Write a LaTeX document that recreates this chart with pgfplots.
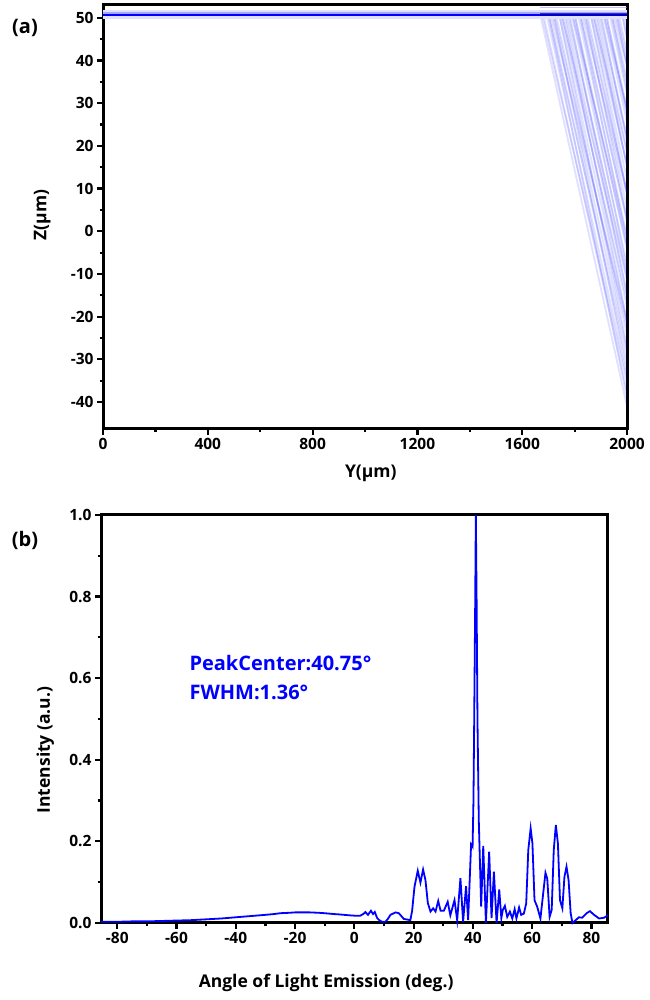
\documentclass[border=0pt]{standalone}
\usepackage{fontspec}
\setmainfont{Open Sans}
\usepackage{pgfplots}
\pgfplotsset{compat=1.18}
\pgfplotsset{
  myax/.style={
    scale only axis,
    axis line style={line width=3pt, black},
    tick align=outside,
    xtick pos=left, ytick pos=left,
    major tick length=6pt, minor tick length=3.5pt,
    major tick style={line width=2.2pt, black},
    minor tick style={line width=2.2pt, black},
    tick label style={font=\fontsize{15.5}{17}\selectfont\bfseries},
    /pgf/number format/assume math mode=true,
    /pgf/number format/1000 sep={},
  },
  ray/.style={blue, line width=1.8pt, opacity=0.12, forget plot},
}
\begin{document}
\begin{tikzpicture}
\useasboundingbox (0pt,0pt) rectangle (649pt,1000pt);

% ---------------- (a) ----------------
\begin{axis}[myax,
  at={(103pt,571pt)}, anchor=south west,
  width=524pt, height=424pt,
  xmin=0, xmax=2000, ymin=-46.3, ymax=53,
  xtick={0,400,800,1200,1600,2000},
  ytick={-40,-30,-20,-10,0,10,20,30,40,50},
  minor x tick num=1, minor y tick num=1,
  xlabel={Y(μm)}, ylabel={Z(μm)},
  every axis x label/.style={at={(axis description cs:0.511,-0.104)}, anchor=center, font=\fontsize{17.5}{20}\selectfont\bfseries},
  every axis y label/.style={at={(axis description cs:-0.116,0.505)}, rotate=90, anchor=center, font=\fontsize{17.5}{20}\selectfont\bfseries},
]
% family A (slope -0.277)
\addplot[ray] coordinates {(1668,51) (2000,-41.0)};
\addplot[ray] coordinates {(1680,51) (2000,-37.6)};
\addplot[ray] coordinates {(1692,51) (2000,-34.3)};
\addplot[ray] coordinates {(1704,51) (2000,-31.0)};
\addplot[ray] coordinates {(1716,51) (2000,-27.7)};
\addplot[ray] coordinates {(1728,51) (2000,-24.3)};
\addplot[ray] coordinates {(1740,51) (2000,-21.0)};
\addplot[ray] coordinates {(1752,51) (2000,-17.7)};
\addplot[ray] coordinates {(1764,51) (2000,-14.4)};
\addplot[ray] coordinates {(1776,51) (2000,-11.0)};
\addplot[ray] coordinates {(1788,51) (2000,-7.7)};
\addplot[ray] coordinates {(1800,51) (2000,-4.4)};
\addplot[ray] coordinates {(1812,51) (2000,-1.1)};
\addplot[ray] coordinates {(1824,51) (2000,2.2)};
\addplot[ray] coordinates {(1836,51) (2000,5.6)};
\addplot[ray] coordinates {(1848,51) (2000,8.9)};
\addplot[ray] coordinates {(1860,51) (2000,12.2)};
\addplot[ray] coordinates {(1872,51) (2000,15.5)};
\addplot[ray] coordinates {(1884,51) (2000,18.9)};
\addplot[ray] coordinates {(1896,51) (2000,22.2)};
\addplot[ray] coordinates {(1908,51) (2000,25.5)};
\addplot[ray] coordinates {(1920,51) (2000,28.8)};
\addplot[ray] coordinates {(1932,51) (2000,32.2)};
\addplot[ray] coordinates {(1944,51) (2000,35.5)};
\addplot[ray] coordinates {(1956,51) (2000,38.8)};
\addplot[ray] coordinates {(1968,51) (2000,42.1)};
\addplot[ray] coordinates {(1980,51) (2000,45.5)};
\addplot[ray] coordinates {(1992,51) (2000,48.8)};
% family B (slope -0.30)
\addplot[ray] coordinates {(1700,51) (2000,-39)};
\addplot[ray] coordinates {(1720,51) (2000,-33)};
\addplot[ray] coordinates {(1740,51) (2000,-27)};
\addplot[ray] coordinates {(1760,51) (2000,-21)};
\addplot[ray] coordinates {(1780,51) (2000,-15)};
\addplot[ray] coordinates {(1800,51) (2000,-9)};
\addplot[ray] coordinates {(1820,51) (2000,-3)};
\addplot[ray] coordinates {(1840,51) (2000,3)};
\addplot[ray] coordinates {(1860,51) (2000,9)};
\addplot[ray] coordinates {(1880,51) (2000,15)};
\addplot[ray] coordinates {(1900,51) (2000,21)};
\addplot[ray] coordinates {(1920,51) (2000,27)};
\addplot[ray] coordinates {(1940,51) (2000,33)};
\addplot[ray] coordinates {(1960,51) (2000,39)};
\addplot[ray] coordinates {(1980,51) (2000,45)};
% family C (slope -0.25)
\addplot[ray] coordinates {(1710,51) (2000,-21.5)};
\addplot[ray] coordinates {(1750,51) (2000,-11.5)};
\addplot[ray] coordinates {(1790,51) (2000,-1.5)};
\addplot[ray] coordinates {(1830,51) (2000,8.5)};
\addplot[ray] coordinates {(1870,51) (2000,18.5)};
\addplot[ray] coordinates {(1910,51) (2000,28.5)};
\addplot[ray] coordinates {(1950,51) (2000,38.5)};
% family D (slope -0.265)
\addplot[ray] coordinates {(1674,51) (2000,-35.4)};
\addplot[ray] coordinates {(1698,51) (2000,-29.0)};
\addplot[ray] coordinates {(1722,51) (2000,-22.7)};
\addplot[ray] coordinates {(1746,51) (2000,-16.3)};
\addplot[ray] coordinates {(1770,51) (2000,-10.0)};
\addplot[ray] coordinates {(1794,51) (2000,-3.6)};
\addplot[ray] coordinates {(1818,51) (2000,2.8)};
\addplot[ray] coordinates {(1842,51) (2000,9.1)};
\addplot[ray] coordinates {(1866,51) (2000,15.5)};
\addplot[ray] coordinates {(1890,51) (2000,21.8)};
\addplot[ray] coordinates {(1914,51) (2000,28.2)};
\addplot[ray] coordinates {(1938,51) (2000,34.6)};
\addplot[ray] coordinates {(1962,51) (2000,40.9)};
\addplot[ray] coordinates {(1986,51) (2000,47.3)};
% waveguide line
\addplot[blue!12, line width=9pt, forget plot] coordinates {(0,50.8) (2000,50.8)};
\addplot[blue!35, line width=4pt, forget plot] coordinates {(0,50.8) (2000,50.8)};
\addplot[blue, line width=1.6pt, forget plot] coordinates {(0,50.7) (2000,50.7)};
\addplot[blue!70!black, line width=2.4pt, opacity=0.7, forget plot] coordinates {(1668,50.8) (2000,50.8)};
\addplot[blue!40, line width=1pt, opacity=0.6, forget plot] coordinates {(1668,52.4) (2000,52.4)};
\end{axis}

% ---------------- (b) ----------------
\begin{axis}[myax,
  at={(101pt,77pt)}, anchor=south west,
  width=507pt, height=408pt,
  xmin=-85.5, xmax=85.6, ymin=0, ymax=1,
  xtick={-80,-60,-40,-20,0,20,40,60,80},
  ytick={0,0.2,0.4,0.6,0.8,1},
  minor x tick num=1, minor y tick num=1,
  yticklabel style={/pgf/number format/fixed, /pgf/number format/fixed zerofill, /pgf/number format/precision=1},
  xlabel={Angle of Light Emission (deg.)}, ylabel={Intensity (a.u.)},
  every axis x label/.style={at={(axis description cs:0.444,-0.147)}, anchor=center, font=\fontsize{17.5}{20}\selectfont\bfseries},
  every axis y label/.style={at={(axis description cs:-0.110,0.424)}, rotate=90, anchor=center, font=\fontsize{17.5}{20}\selectfont\bfseries},
  clip=false,
]
\addplot[blue, line width=1.8pt] coordinates {
(-85.5,0.003) (-80,0.003) (-75,0.004) (-70,0.004) (-65,0.005) (-60,0.006) (-55,0.007)
(-50,0.009) (-45,0.011) (-40,0.014) (-35,0.017) (-30,0.020) (-27,0.022) (-25,0.024)
(-22,0.025) (-20,0.026) (-18,0.026) (-15,0.026) (-12,0.025) (-10,0.024) (-7,0.022)
(-5,0.021) (-2,0.019) (0,0.018) (2,0.018)
(3,0.022) (3.7,0.027) (4.6,0.02) (5.6,0.03) (6.3,0.022) (6.9,0.027) (7.7,0.012)
(8.6,0.006) (9.4,0.003) (10.5,0.003) (11.3,0.01) (12.2,0.02) (13.9,0.026) (15,0.024)
(16.7,0.01) (18.9,0.007) (19.5,0.03) (20.3,0.089) (21.4,0.128) (22.3,0.099) (23.2,0.131)
(24,0.105) (24.8,0.049) (25.7,0.028) (26.6,0.036) (27.4,0.028) (28.3,0.054) (29.1,0.03)
(30.2,0.03) (31.5,0.052) (32.4,0.019) (33.8,0.056) (34.7,0.007) (35.8,0.11) (36.7,0.003)
(37.7,0.09) (38.4,0.007) (39.4,0.193) (39.9,0.187) (40.2,0.3) (40.45,0.5) (40.8,0.8)
(41.0,1.0) (41.25,0.8) (41.55,0.5) (42.0,0.25) (42.8,0.04)
(43.5,0.189) (44.4,0.0) (45.5,0.175) (46.3,0.012) (47.1,0.126) (48,0.0) (48.9,0.082)
(49.6,0.012) (50.1,0.032) (50.8,0.042) (51.6,0.015) (52.5,0.028) (53.3,0.011) (54.1,0.034)
(54.7,0.011) (55.6,0.038) (56.3,0.02) (57.2,0.023) (58,0.048) (58.7,0.179) (59.5,0.232)
(60.1,0.195) (60.8,0.056) (61.7,0.04) (62.8,0.011) (63.6,0.064) (64.5,0.123) (65.1,0.109)
(65.9,0.015) (66.6,0.032) (67.3,0.179) (68,0.24) (68.7,0.195) (69.4,0.056) (70.2,0.036)
(70.9,0.113) (71.6,0.138) (72.3,0.105) (73,0.024) (73.6,0.0) (74.7,0.007) (75.8,0.014)
(76.9,0.013) (78.4,0.024) (79.5,0.029) (80.9,0.02) (82.6,0.011) (84.3,0.013) (85.6,0.019)
};
\end{axis}

\node[anchor=west, text=blue, font=\fontsize{20}{22}\selectfont\bfseries] at (186pt,337pt) {PeakCenter:40.75°};
\node[anchor=west, text=blue, font=\fontsize{20}{22}\selectfont\bfseries] at (186pt,308pt) {FWHM:1.36°};
\node[font=\fontsize{20}{22}\selectfont\bfseries] at (25pt,972pt) {(a)};
\node[font=\fontsize{20}{22}\selectfont\bfseries] at (25pt,460pt) {(b)};
\end{tikzpicture}
\end{document}
